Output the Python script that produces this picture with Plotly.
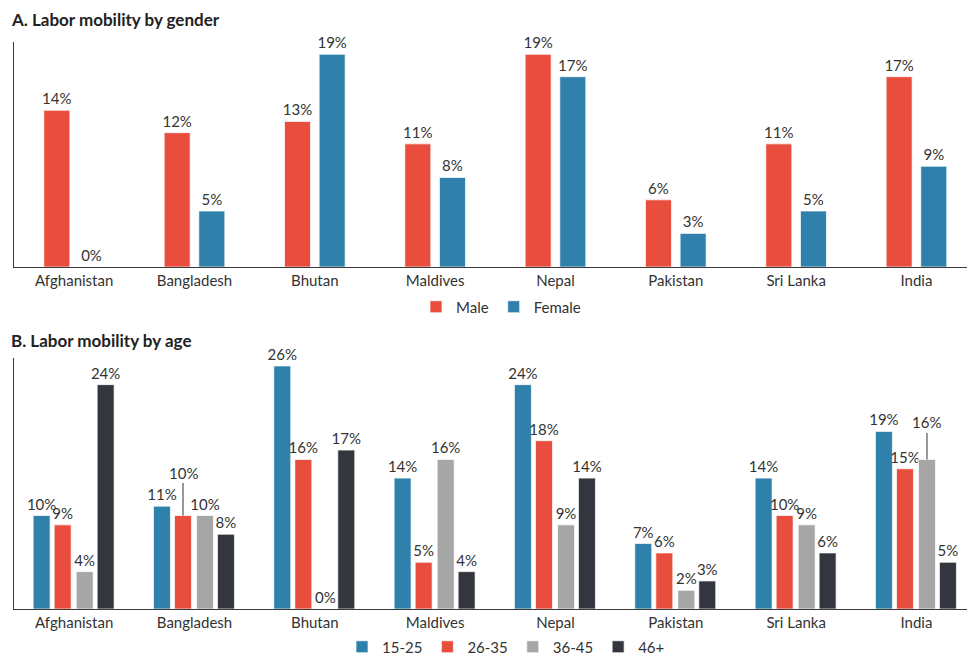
import plotly.graph_objects as go
from plotly.subplots import make_subplots

countries = ["Afghanistan", "Bangladesh", "Bhutan", "Maldives", "Nepal", "Pakistan", "Sri Lanka", "India"]

# panel A - gender (%)
male = [14, 12, 13, 11, 19, 6, 11, 17]
female = [0, 5, 19, 8, 17, 3, 5, 9]

# panel B - age groups (%)
age_groups = ["15-25", "26-35", "36-45", "46+"]
age_15_25 = [10, 11, 26, 14, 24, 7, 14, 19]
age_26_35 = [9, 10, 16, 5, 18, 6, 10, 15]
age_36_45 = [4, 10, 0, 16, 9, 2, 9, 16]
age_46_up = [24, 8, 17, 4, 14, 3, 6, 5]

RED = '#E84D3D'
BLUE = '#2F80AA'
GREY = '#A7A6A7'
DARK = '#33363D'
TXT = '#333333'
FONT = 'Lato'

W, H = 967, 656
ML, MR, MT, MB = 14, 0, 42, 47
ph = H - MT - MB


def py(pix):
    # pixel row -> paper y
    return (H - MB - pix) / ph


def px(pix):
    return (pix - ML) / (W - ML - MR)


fig = make_subplots(rows=2, cols=1)


def labels(vals, skip=()):
    return ['' if i in skip else f'{v}%' for i, v in enumerate(vals)]


bar_a = 0.216
fig.add_trace(go.Bar(name='Male', x=countries, y=male, marker_color=RED, width=bar_a, offset=-0.252,
                     text=labels(male), legend='legend'), 1, 1)
fig.add_trace(go.Bar(name='Female', x=countries, y=female, marker_color=BLUE, width=bar_a, offset=0.036,
                     text=labels(female), legend='legend'), 1, 1)

bar_b = 0.141
offs_b = [-0.341, -0.166, 0.017, 0.191]
vals_b = [age_15_25, age_26_35, age_36_45, age_46_up]
cols_b = [BLUE, RED, GREY, DARK]
skips = [(), (1,), (7,), ()]
for name, vals, col, off, sk in zip(age_groups, vals_b, cols_b, offs_b, skips):
    fig.add_trace(go.Bar(name=name, x=countries, y=vals, marker_color=col, width=bar_b, offset=off,
                         text=labels(vals, sk), legend='legend2'), 2, 1)

fig.update_traces(textposition='outside', cliponaxis=False, constraintext='none', textangle=0,
                  textfont=dict(family=FONT, size=15, color=TXT),
                  marker_line=dict(color='rgba(255,255,255,0.7)', width=1))

# leader-line labels
for x, y, ay in [(1 + offs_b[1] + bar_b / 2, age_26_35[1], -43),
                 (7 + offs_b[2] + bar_b / 2, age_36_45[7], -37)]:
    fig.add_annotation(x=x, y=y, xref='x2', yref='y2', text=f'{y}%', showarrow=True,
                       arrowhead=0, arrowwidth=1, arrowcolor=TXT, ax=0, ay=ay, standoff=0,
                       font=dict(family=FONT, size=15, color=TXT))

fig.add_annotation(text='<b>A. Labor mobility by gender</b>', xref='paper', yref='paper',
                   x=px(9), y=py(20), xanchor='left', yanchor='middle', showarrow=False,
                   font=dict(family=FONT, size=17, color='#222222'))
fig.add_annotation(text='<b>B. Labor mobility by age</b>', xref='paper', yref='paper',
                   x=px(9), y=py(340), xanchor='left', yanchor='middle', showarrow=False,
                   font=dict(family=FONT, size=17, color='#222222'))

axis_x = dict(range=[-0.5, 7.42], showline=True, linecolor='#3a3a3a', linewidth=1,
              ticks='', showgrid=False, tickfont=dict(family=FONT, size=15, color=TXT))
axis_y = dict(showline=True, linecolor='#3a3a3a', linewidth=1, showgrid=False,
              showticklabels=False, ticks='', zeroline=False)

fig.update_layout(
    width=W, height=H,
    margin=dict(l=ML, r=MR, t=MT, b=MB, autoexpand=False),
    plot_bgcolor='white', paper_bgcolor='white',
    barmode='overlay',
    font=dict(family=FONT, color=TXT),
    xaxis=dict(axis_x, anchor='y'),
    xaxis2=dict(axis_x, anchor='y2'),
    yaxis=dict(axis_y, range=[0, 20.1], domain=[py(267), 1]),
    yaxis2=dict(axis_y, range=[0, 26.85], domain=[0, py(358)]),
    legend=dict(orientation='h', x=px(501), y=py(307), xanchor='center', yanchor='middle',
                font=dict(family=FONT, size=15, color=TXT), itemclick=False),
    legend2=dict(orientation='h', x=px(506), y=py(647), xanchor='center', yanchor='middle',
                 font=dict(family=FONT, size=15, color=TXT), itemclick=False),
)

fig.write_html("out.html", config={'displayModeBar': False},
               post_script="document.body.style.margin='0px';")
